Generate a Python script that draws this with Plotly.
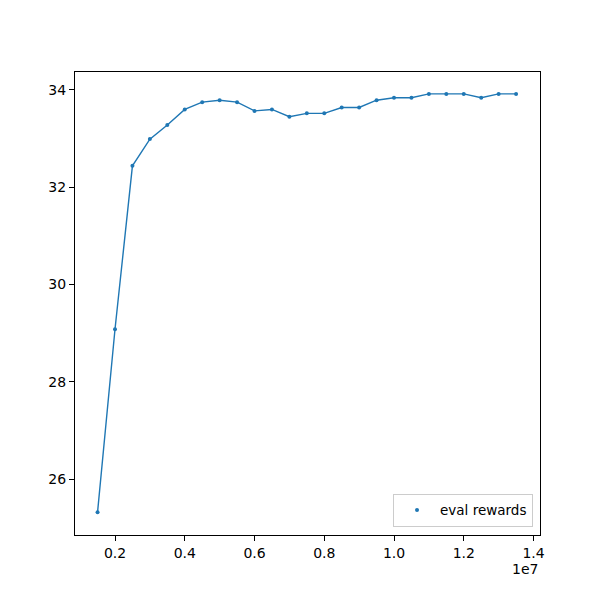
import plotly.graph_objects as go

steps = [1.5e6, 2.0e6, 2.5e6, 3.0e6, 3.5e6, 4.0e6, 4.5e6, 5.0e6, 5.5e6, 6.0e6, 6.5e6,
         7.0e6, 7.5e6, 8.0e6, 8.5e6, 9.0e6, 9.5e6, 10.0e6, 10.5e6, 11.0e6, 11.5e6,
         12.0e6, 12.5e6, 13.0e6, 13.5e6]
rewards = [25.32, 29.08, 32.44, 32.99, 33.28, 33.60, 33.75, 33.79, 33.75, 33.57, 33.60,
           33.45, 33.52, 33.52, 33.64, 33.64, 33.79, 33.84, 33.84, 33.92, 33.92,
           33.92, 33.84, 33.92, 33.92]
x_tickvals = [2e6, 4e6, 6e6, 8e6, 10e6, 12e6, 14e6]
x_ticktext = ["0.2", "0.4", "0.6", "0.8", "1.0", "1.2", "1.4"]
y_tickvals = [26, 28, 30, 32, 34]

blue = "#1f77b4"
font = dict(family="DejaVu Sans", size=14, color="black")
legend_font = dict(family="DejaVu Sans", size=13.5, color="black")

fig = go.Figure()
fig.add_trace(go.Scatter(x=steps, y=rewards, mode="lines",
                         line=dict(color=blue, width=1.4), showlegend=False, hoverinfo="skip"))
fig.add_trace(go.Scatter(x=steps, y=rewards, mode="markers",
                         marker=dict(color=blue, size=4), name="eval rewards"))

fig.update_layout(
    width=600, height=600,
    margin=dict(l=67, r=68, t=64, b=73),
    plot_bgcolor="white", paper_bgcolor="white",
    font=font,
    legend=dict(x=0.985, y=0.018, xanchor="right", yanchor="bottom",
                bordercolor="#cccccc", borderwidth=1, bgcolor="rgba(255,255,255,0.8)",
                font=legend_font, itemsizing="trace", itemwidth=36, tracegroupgap=0),
    xaxis=dict(range=[0.853e6, 14.186e6], tickvals=x_tickvals, ticktext=x_ticktext,
               showgrid=False, zeroline=False, showline=True, linecolor="black", linewidth=1.2,
               mirror=True, ticks="outside", ticklen=5, tickcolor="black", tickfont=font),
    yaxis=dict(range=[24.85, 34.37], tickvals=y_tickvals,
               showgrid=False, zeroline=False, showline=True, linecolor="black", linewidth=1.2,
               mirror=True, ticks="outside", ticklen=5, tickcolor="black", tickfont=font),
    annotations=[dict(text="1e7", xref="paper", yref="paper", x=1.0, y=0,
                      xanchor="right", yanchor="top", yshift=-24, showarrow=False, font=font)],
)

fig.write_html("out.html")
